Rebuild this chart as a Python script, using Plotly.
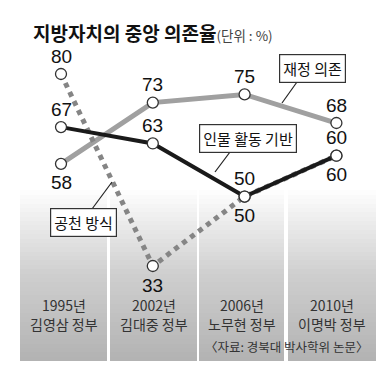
import plotly.graph_objects as go

years = ["1995년", "2002년", "2006년", "2010년"]
govs = ["김영삼 정부", "김대중 정부", "노무현 정부", "이명박 정부"]
finance = [58, 73, 75, 68]      # 재정 의존
person = [67, 63, 50, 60]       # 인물 활동 기반
nomination = [80, 33, 50, 60]   # 공천 방식

W, H = 389, 369
xs = list(range(len(years)))
X0, DX = 61, 91.8
def px2x(p):
    return (p - X0) / DX
Y80, DY = 74, 4.085
def py2y(p):
    return 80 - (p - Y80) / DY

KR = "Noto Sans CJK KR, Noto Sans, DejaVu Sans, sans-serif"

fig = go.Figure()

# gradient columns (heatmaps)
col_edges = [(20, 107), (110, 197), (199, 284), (288, 376)]
NR = 40
top, bot = 186, 361
for (l, r) in col_edges:
    yedges = [py2y(bot - (bot - top) * k / NR) for k in range(NR + 1)]
    z = [[k / (NR - 1)] for k in range(NR)]
    fig.add_trace(go.Heatmap(
        x=[px2x(l), px2x(r)], y=yedges, z=z, zmin=0, zmax=1,
        colorscale=[[0, "#b3b3b3"], [0.5, "#cfcfcf"], [1, "#ffffff"]],
        showscale=False, hoverinfo="skip"))

marker = dict(size=11, color="white", line=dict(color="#333333", width=1.3))

fig.add_trace(go.Scatter(x=xs, y=finance, mode="lines", line=dict(color="#a0a0a0", width=5),
                         showlegend=False, hoverinfo="skip"))
fig.add_trace(go.Scatter(x=xs, y=nomination, mode="lines",
                         line=dict(color="#858585", width=5, dash="dot"), showlegend=False,
                         hoverinfo="skip"))
fig.add_trace(go.Scatter(x=xs, y=person, mode="lines", line=dict(color="#1a1a1a", width=4),
                         showlegend=False, hoverinfo="skip"))
for ser in (finance, nomination, person):
    fig.add_trace(go.Scatter(x=xs, y=ser, mode="markers", marker=marker, showlegend=False,
                             hoverinfo="skip"))

font_num = dict(family="Liberation Sans, Arial", size=19, color="#111111")
def lab(x, y, text, pos):
    fig.add_annotation(x=x, y=y, text=text, showarrow=False, font=font_num,
                       xanchor="center", yanchor="middle",
                       yshift=18 if pos == "above" else -19)

for i, v in enumerate(finance):
    lab(i, v, str(v), "below" if i == 0 else "above")
for i, v in enumerate(person):
    lab(i, v, str(v), "above")
for i, v in enumerate(nomination):
    lab(i, v, str(v), "above" if i == 0 else "below")

def ptext(x, y, text, font, xanchor="center", **kw):
    fig.add_annotation(xref="paper", yref="paper", x=x / W, y=1 - y / H, text=text,
                       showarrow=False, xanchor=xanchor, yanchor="middle", font=font, **kw)

# series label boxes with connectors
boxes = [("재정 의존", 312, 68, (297, 82), (282, 103)),
         ("인물 활동 기반", 248, 139, (230, 152), (215, 172)),
         ("공천 방식", 83, 222, (92, 209), (112, 182))]
for text, cx, cy, p1, p2 in boxes:
    fig.add_shape(type="line", xref="paper", yref="paper",
                  x0=p1[0] / W, y0=1 - p1[1] / H, x1=p2[0] / W, y1=1 - p2[1] / H,
                  line=dict(color="#222222", width=1.2))
    ptext(cx, cy, text, dict(family=KR, size=15, color="#111111"),
          bgcolor="white", bordercolor="#333333", borderwidth=1.2, borderpad=3)

# category labels
cat_font = dict(family=KR, size=14, color="#333333")
for i in xs:
    l, r = col_edges[i]
    cx = (l + r) / 2
    ptext(cx, 305, years[i], cat_font)
    ptext(cx, 324, govs[i], cat_font)

ptext(370, 346, "〈자료: 경북대 박사학위 논문〉",
      dict(family=KR, size=12.5, color="#333333"), xanchor="right")

ptext(31, 32, "<b>지방자치의 중앙 의존율</b><span style='font-size:13.5px;color:#444'>(단위 : %)</span>",
      dict(family=KR, size=19, color="#111111"), xanchor="left")

fig.update_layout(
    width=W, height=H, margin=dict(l=0, r=0, t=0, b=0),
    paper_bgcolor="white", plot_bgcolor="white",
    xaxis=dict(range=[px2x(0), px2x(W)], visible=False, fixedrange=True),
    yaxis=dict(range=[py2y(H), py2y(0)], visible=False, fixedrange=True),
)

fig.write_html("out.html", config={"displayModeBar": False},
               post_script="document.body.style.margin='0';")
